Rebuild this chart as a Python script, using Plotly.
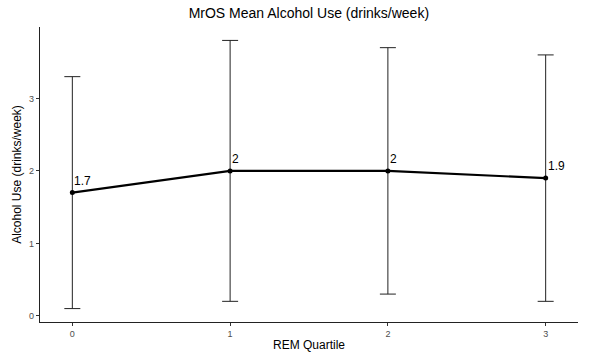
import plotly.graph_objects as go

quartiles = [0, 1, 2, 3]
means = [1.7, 2.0, 2.0, 1.9]
upper = [3.3, 3.8, 3.7, 3.6]
lower = [0.1, 0.2, 0.3, 0.2]
labels = ["1.7", "2", "2", "1.9"]

err_plus = [u - m for u, m in zip(upper, means)]
err_minus = [m - l for m, l in zip(means, lower)]

fig = go.Figure()
fig.add_trace(go.Scatter(
    x=quartiles, y=means,
    mode="lines+markers",
    line=dict(color="black", width=2.2),
    marker=dict(color="black", size=5),
    error_y=dict(type="data", symmetric=False, array=err_plus, arrayminus=err_minus,
                 color="#222222", thickness=1, width=8),
    showlegend=False,
    cliponaxis=False,
))

for q, m, lab in zip(quartiles, means, labels):
    fig.add_annotation(x=q, y=m, text=lab, showarrow=False,
                       xanchor="left", yanchor="bottom", xshift=0, yshift=3,
                       font=dict(family="Liberation Sans, Arial", size=12, color="black"))

fig.update_layout(
    width=594, height=357,
    margin=dict(l=40, r=16, t=27, b=35),
    paper_bgcolor="white", plot_bgcolor="white",
    title=dict(text="MrOS Mean Alcohol Use (drinks/week)", x=0.52, xanchor="center",
               y=0.962, yanchor="middle",
               font=dict(family="Liberation Sans, Arial", size=14, color="black")),
    font=dict(family="Liberation Sans, Arial"),
)
fig.update_xaxes(
    range=[-0.205, 3.205], tickvals=quartiles, ticktext=[str(q) for q in quartiles],
    showgrid=False, zeroline=False, showline=True, linecolor="#222222", linewidth=1.2,
    ticks="outside", ticklen=3, tickcolor="#333333", tickwidth=1,
    tickfont=dict(size=9, color="#4d4d4d"), automargin=False,
    title=dict(text="REM Quartile", font=dict(size=12, color="black"), standoff=2),
)
fig.update_yaxes(
    range=[-0.085, 3.985], tickvals=[0, 1, 2, 3],
    showgrid=False, zeroline=False, showline=True, linecolor="#222222", linewidth=1.2,
    ticks="outside", ticklen=3, tickcolor="#333333", tickwidth=1,
    tickfont=dict(size=9, color="#4d4d4d"), automargin=False,
    title=dict(text="Alcohol Use (drinks/week)", font=dict(size=12, color="black"), standoff=4),
)

fig.write_html("out.html")
